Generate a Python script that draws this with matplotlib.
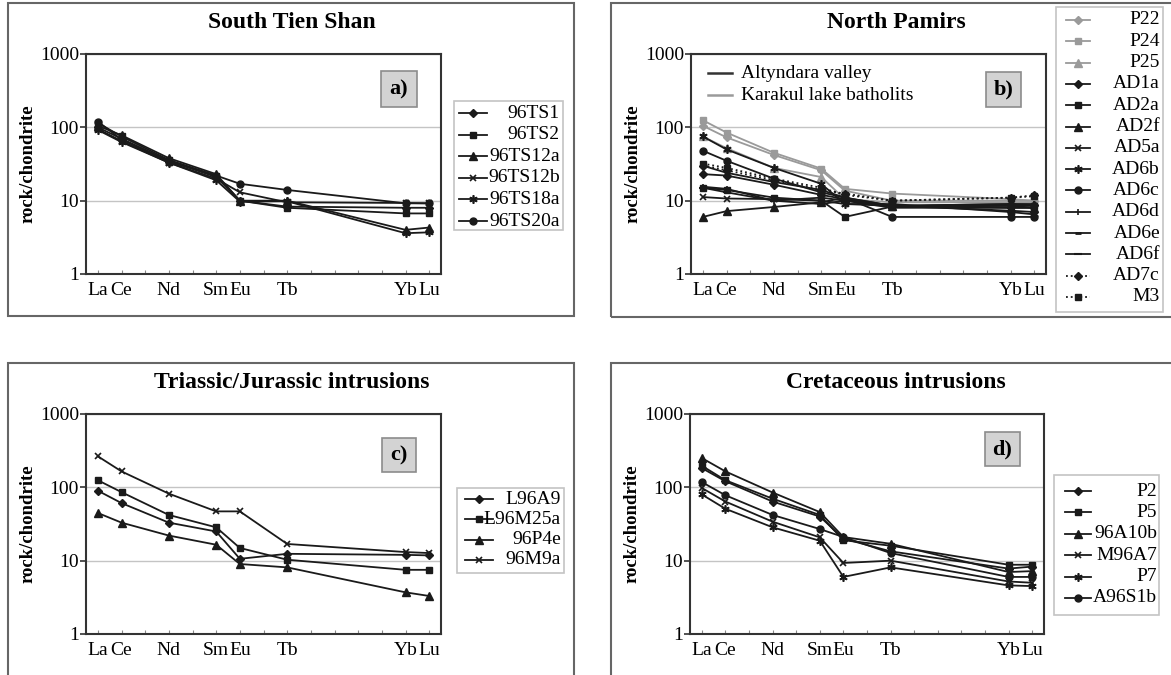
import numpy as np
import matplotlib.pyplot as plt
from matplotlib.patches import Rectangle
from matplotlib.lines import Line2D

plt.rcParams['font.family'] = ['Liberation Serif', 'DejaVu Serif']

W, H = 1171, 675

# ---- REE pattern data (normalised to chondrite) ----
ree = ['La', 'Ce', 'Pr', 'Nd', 'Pm', 'Sm', 'Eu', 'Gd', 'Tb', 'Dy', 'Ho', 'Er', 'Tm', 'Yb', 'Lu']
elements = ['La', 'Ce', 'Nd', 'Sm', 'Eu', 'Tb', 'Yb', 'Lu']

# a) South Tien Shan
names_a = ['96TS1', '96TS2', '96TS12a', '96TS12b', '96TS18a', '96TS20a']
vals_a = [
    [100, 70, 35, 21, 10, 8.3, 8.0, 8.0],
    [115, 75, 36, 22, 10, 8.0, 6.7, 6.7],
    [105, 78, 38, 23, 10, 10, 4.0, 4.3],
    [95, 65, 33, 20, 13, 9.5, 9.3, 9.2],
    [92, 63, 33, 19, 9.7, 9.8, 3.6, 3.7],
    [120, 68, 34, 22, 17, 14, 9.2, 9.2],
]
marks_a = ['D', 's', '^', 'x', 'star', 'o']

# b) North Pamirs
names_b = ['P22', 'P24', 'P25', 'AD1a', 'AD2a', 'AD2f', 'AD5a', 'AD6b', 'AD6c',
           'AD6d', 'AD6e', 'AD6f', 'AD7c', 'M3']
vals_b = [
    [105, 73, 42, 26, 13.7, 10, 10, 10],
    [125, 85, 45, 27.4, 14.5, 12.5, 10.5, 10],
    [75, 52, 28, 21, 10.5, 9.5, 9.5, 9.5],
    [23, 22, 16.5, 12, 10.5, 8.5, 9, 8.8],
    [15, 14, 11, 10, 6, 8.3, 8.5, 8.5],
    [6, 7.2, 8.2, 9.5, 11, 8.5, 8, 8],
    [11.2, 10.7, 10.5, 10, 9, 8.5, 7.3, 7],
    [75, 50, 28, 17, 9, 9, 7, 6.5],
    [48, 35, 20, 13, 11, 6, 6, 6],
    [15.5, 14.5, 10, 11, 10, 8.5, 9, 9],
    [30, 24, 18, 14, 11, 8.5, 8.5, 8],
    [15, 13, 10, 9, 10, 8, 8, 8],
    [30, 26, 19, 14, 12.5, 10, 11, 11.8],
    [32, 28, 20, 15, 12, 10, 11, 11.5],
]
marks_b = ['D', 's', '^', 'D', 's', '^', 'x', 'star', 'o', '+', 'dash_s', 'dash_l', 'D', 's']
group_b = ['K', 'K', 'K'] + ['A'] * 11
dotted_b = ['AD7c', 'M3']

# c) Triassic/Jurassic intrusions
names_c = ['L96A9', 'L96M25a', '96P4e', '96M9a']
vals_c = [
    [90, 61, 33, 25, 10.6, 12.4, 12, 11.8],
    [125, 86, 42, 28.5, 14.9, 10.3, 7.5, 7.5],
    [44.7, 33, 22, 16.5, 9.0, 8.1, 3.7, 3.3],
    [265, 165, 82, 47, 47, 16.9, 13.1, 12.7],
]
marks_c = ['D', 's', '^', 'x']

# d) Cretaceous intrusions
names_d = ['P2', 'P5', '96A10b', 'M96A7', 'P7', 'A96S1b']
vals_d = [
    [183, 121, 64, 40, 20, 13.4, 7.8, 8.3],
    [197, 125, 70, 42, 19, 16, 8.8, 8.8],
    [251, 165, 85, 46, 21, 17, 7.0, 7.2],
    [98, 64, 34, 20.8, 9.3, 10, 5.2, 5.0],
    [80, 51, 28.5, 18.7, 6.0, 8.1, 4.6, 4.5],
    [118, 78, 42, 27, 21, 12.7, 6.0, 6.0],
]
marks_d = ['D', 's', '^', 'x', 'star', 'o']

BLACK = '#1a1a1a'
GREY = '#9a9a9a'


def fx(x):
    return x / W


def fy(y):
    return 1 - y / H


def marker_kw(m, color):
    kw = dict(color=color, mfc=color, mec=color)
    if m == 'star':
        kw.update(marker=(6, 2, 0), ms=6, mew=1.2)
    elif m == 'x':
        kw.update(marker='x', ms=5, mew=1.2)
    elif m == '+':
        kw.update(marker='|', ms=5, mew=1.2)
    elif m == 'dash_s':
        kw.update(marker='_', ms=4, mew=2)
    elif m == 'dash_l':
        kw.update(marker='_', ms=6, mew=1.5)
    elif m == 'D':
        kw.update(marker='D', ms=4)
    elif m == 's':
        kw.update(marker='s', ms=4.5)
    elif m == '^':
        kw.update(marker='^', ms=5.5)
    else:
        kw.update(marker='o', ms=5)
    return kw


xpos = np.array([ree.index(e) for e in elements]) + 0.5

fig = plt.figure(figsize=(W / 100, H / 100), dpi=100)
fig.patch.set_facecolor('white')


def make_axes(left, top, right, bottom):
    ax = fig.add_axes([fx(left), fy(bottom), (right - left) / W, (bottom - top) / H])
    ax.set_yscale('log')
    ax.set_ylim(1, 1000)
    ax.set_xlim(0, 15)
    ax.set_yticks([1, 10, 100, 1000])
    ax.set_yticklabels(['1', '10', '100', '1000'])
    ax.yaxis.set_minor_locator(plt.NullLocator())
    ax.set_xticks(np.arange(15) + 0.5)
    ax.set_xticklabels([e if e in elements else '' for e in ree])
    ax.tick_params(axis='x', direction='in', length=3, width=0.8, color='#888888',
                   labelsize=14, pad=6)
    ax.tick_params(axis='y', direction='out', length=4, width=1.2, color='#333333',
                   labelsize=14, pad=1)
    ax.grid(axis='y', which='major', color='#c4c4c4', lw=1.0)
    ax.set_axisbelow(True)
    for s in ax.spines.values():
        s.set_linewidth(1.5)
        s.set_color('#333333')
    ax.set_ylabel('rock/chondrite', fontsize=13.5, fontweight='bold')
    # label sits ~50 px left of the spine
    ax.yaxis.set_label_coords(-50 / (right - left), 0.5)
    return ax


def panel_box(x0, y0, x1, y1):
    fig.add_artist(Rectangle((fx(x0), fy(y1)), (x1 - x0) / W, (y1 - y0) / H,
                             transform=fig.transFigure, fill=False,
                             edgecolor='#666666', lw=1.5))


def tag_box(x0, y0, x1, y1, s):
    fig.add_artist(Rectangle((fx(x0), fy(y1)), (x1 - x0) / W, (y1 - y0) / H,
                             transform=fig.transFigure, facecolor='#d3d3d3',
                             edgecolor='#8c8c8c', lw=1.2))
    fig.text(fx((x0 + x1) / 2), fy((y0 + y1) / 2), s, ha='center', va='center',
             fontsize=16, fontweight='bold')


def legend_box(x0, y0, x1, y1, names, marks, colors, styles, hx0, hx1, yfirst, dy, tright):
    fig.add_artist(Rectangle((fx(x0), fy(y1)), (x1 - x0) / W, (y1 - y0) / H,
                             transform=fig.transFigure, facecolor='white',
                             edgecolor='#c4c4c4', lw=1.2))
    for i, (n, m, c, ls) in enumerate(zip(names, marks, colors, styles)):
        y = yfirst + i * dy
        kw = marker_kw(m, c)
        fig.add_artist(Line2D([fx(hx0), fx((hx0 + hx1) / 2), fx(hx1)], [fy(y)] * 3,
                              transform=fig.transFigure, ls=ls, lw=1.3,
                              markevery=[1], **kw))
        fig.text(fx(tright), fy(y), n, ha='right', va='center', fontsize=14)


def draw_series(ax, vals, marks, colors, styles):
    for v, m, c, ls in zip(vals, marks, colors, styles):
        ax.plot(xpos, v, ls=ls, lw=1.3, **marker_kw(m, c))


# ---- a) South Tien Shan ----
panel_box(8, 3, 574, 316)
ax_a = make_axes(86, 54, 441, 274)
cols_a = [BLACK] * len(names_a)
ls_a = ['-'] * len(names_a)
draw_series(ax_a, vals_a, marks_a, cols_a, ls_a)
fig.text(fx(292), fy(23), 'South Tien Shan', ha='center', va='center',
         fontsize=17, fontweight='bold')
tag_box(381, 71, 417, 107, 'a)')
legend_box(454, 101, 563, 230, names_a, marks_a, cols_a, ls_a, 459, 487, 113, 21.6, 560)

# ---- b) North Pamirs ----
panel_box(611, 3, 1185, 317)
ax_b = make_axes(691, 54, 1046, 274)
cols_b = [GREY if g == 'K' else BLACK for g in group_b]
ls_b = [':' if n in dotted_b else '-' for n in names_b]
draw_series(ax_b, vals_b, marks_b, cols_b, ls_b)
fig.text(fx(896), fy(23), 'North Pamirs', ha='center', va='center',
         fontsize=17, fontweight='bold')
tag_box(986, 72, 1021, 107, 'b)')
legend_box(1056, 7, 1163, 312, names_b, marks_b, cols_b, ls_b, 1066, 1090, 20, 21.3, 1160)
# group key inside the plot area
for y, c, s in [(73, '#333333', 'Altyndara valley'), (95, GREY, 'Karakul lake batholits')]:
    fig.add_artist(Line2D([fx(708), fx(732)], [fy(y), fy(y)], transform=fig.transFigure,
                          color=c, lw=1.8))
    fig.text(fx(741), fy(y), s, ha='left', va='center', fontsize=14)

# ---- c) Triassic/Jurassic intrusions ----
panel_box(8, 363, 574, 690)
ax_c = make_axes(86, 414, 441, 634)
cols_c = [BLACK] * len(names_c)
ls_c = ['-'] * len(names_c)
draw_series(ax_c, vals_c, marks_c, cols_c, ls_c)
fig.text(fx(292), fy(383), 'Triassic/Jurassic intrusions', ha='center', va='center',
         fontsize=17, fontweight='bold')
tag_box(382, 438, 416, 472, 'c)')
legend_box(457, 488, 564, 573, names_c, marks_c, cols_c, ls_c, 465, 493, 499, 20.3, 561)

# ---- d) Cretaceous intrusions ----
panel_box(611, 363, 1185, 690)
ax_d = make_axes(690, 414, 1044, 634)
cols_d = [BLACK] * len(names_d)
ls_d = ['-'] * len(names_d)
draw_series(ax_d, vals_d, marks_d, cols_d, ls_d)
fig.text(fx(896), fy(383), 'Cretaceous intrusions', ha='center', va='center',
         fontsize=17, fontweight='bold')
tag_box(985, 432, 1020, 466, 'd)')
legend_box(1054, 475, 1159, 615, names_d, marks_d, cols_d, ls_d, 1065, 1091, 491, 21.4, 1157)

fig.savefig('out.png', dpi=100)
